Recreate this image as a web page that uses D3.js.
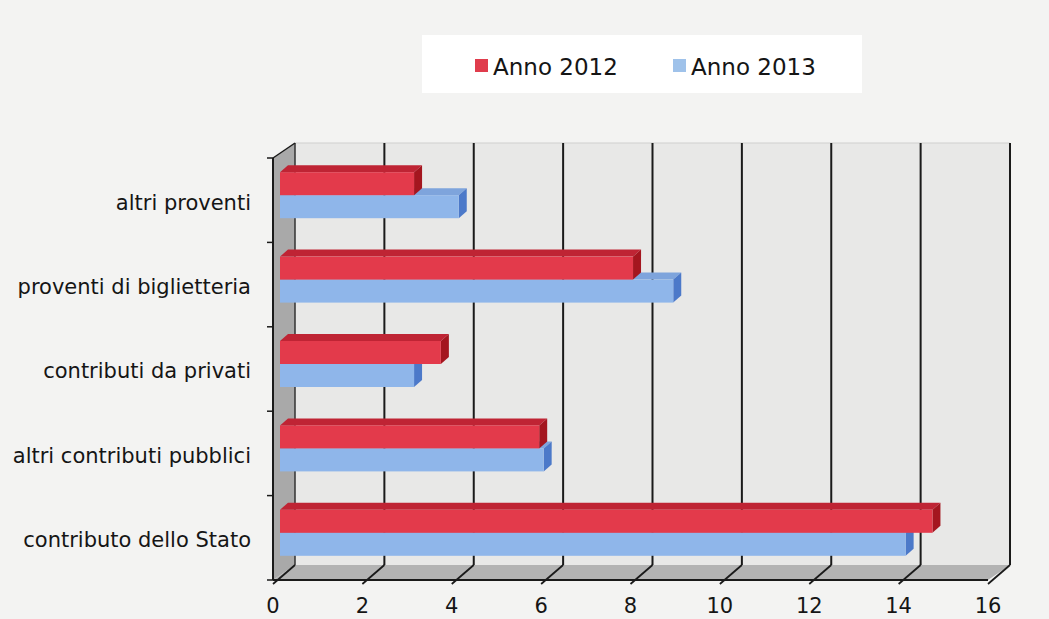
<!DOCTYPE html>
<html>
<head>
<meta charset="utf-8">
<script src="https://cdn.jsdelivr.net/npm/d3@7"></script>
<style>
  html, body { margin: 0; padding: 0; background: #f3f3f2; }
  svg { display: block; }
</style>
</head>
<body>
<svg id="chart" width="1049" height="619"></svg>
<script>
// ---- data ----
const categories = ["altri proventi", "proventi di biglietteria", "contributi da privati", "altri contributi pubblici", "contributo dello Stato"];
const seriesNames = ["Anno 2012", "Anno 2013"];
const values2012 = [3.0, 7.9, 3.6, 5.8, 14.6];
const values2013 = [4.0, 8.8, 3.0, 5.9, 14.0];
const xTicks = [0, 2, 4, 6, 8, 10, 12, 14, 16];

// ---- styles ----
const colors = {
  "Anno 2012": { front: "#e33a4b", top: "#bf2434", side: "#a4161f", legend: "#e03c4c" },
  "Anno 2013": { front: "#8fb6ea", top: "#7ea4dc", side: "#4c79c9", legend: "#9fc2ea" }
};
const font = "'DejaVu Sans', Verdana, sans-serif";

const svg = d3.select("#chart");

// scales (front plane)
const x = d3.scaleLinear().domain([0, 16]).range([273, 988]);
const y = d3.scaleBand().domain(categories).range([158, 580]);
const yInner = d3.scaleBand().domain(seriesNames).range([0, 46]);

// depth offsets
const wallDX = 22, wallDY = -15;      // back wall
const barF = { dx: 7, dy: -5 };       // bar front face
const barB = { dx: 15, dy: -12 };     // bar back face

const yTop = y.range()[0], yBot = y.range()[1];
const x0 = x(0), x16 = x(16);

// left side wall
svg.append("polygon")
  .attr("points", [[x0, yTop], [x0 + wallDX, yTop + wallDY], [x0 + wallDX, yBot + wallDY], [x0, yBot]].join(" "))
  .attr("fill", "#a9a9a9");

// back wall
svg.append("rect")
  .attr("x", x0 + wallDX).attr("y", yTop + wallDY)
  .attr("width", x16 - x0).attr("height", yBot - yTop)
  .attr("fill", "#e8e8e7");
svg.append("line")
  .attr("x1", x0 + wallDX).attr("x2", x16 + wallDX)
  .attr("y1", yTop + wallDY).attr("y2", yTop + wallDY)
  .attr("stroke", "#cfcfcf").attr("stroke-width", 1);

// floor
svg.append("polygon")
  .attr("points", [[x0, yBot], [x0 + wallDX, yBot + wallDY], [x16 + wallDX, yBot + wallDY], [x16, yBot]].join(" "))
  .attr("fill", "#b3b3b3");

// gridlines on back wall
svg.append("g").selectAll("line")
  .data(xTicks.filter(d => d > 0))
  .join("line")
  .attr("x1", d => x(d) + wallDX).attr("x2", d => x(d) + wallDX)
  .attr("y1", yTop + wallDY).attr("y2", yBot + wallDY)
  .attr("stroke", "#1a1a1a").attr("stroke-width", 2);

// left back edge
svg.append("line")
  .attr("x1", x0 + wallDX).attr("x2", x0 + wallDX)
  .attr("y1", yTop + wallDY).attr("y2", yBot + wallDY)
  .attr("stroke", "#333").attr("stroke-width", 1.5);

// floor diagonals
svg.append("g").selectAll("line")
  .data(xTicks)
  .join("line")
  .attr("x1", d => x(d)).attr("y1", yBot + 4)
  .attr("x2", d => x(d) + wallDX).attr("y2", yBot + wallDY)
  .attr("stroke", "#1a1a1a").attr("stroke-width", 1.8);

// top-left diagonal
svg.append("line")
  .attr("x1", x0).attr("y1", yTop)
  .attr("x2", x0 + wallDX).attr("y2", yTop + wallDY)
  .attr("stroke", "#1a1a1a").attr("stroke-width", 1.5);

// bottom axis line (front)
svg.append("line")
  .attr("x1", x0).attr("x2", x16).attr("y1", yBot).attr("y2", yBot)
  .attr("stroke", "#1a1a1a").attr("stroke-width", 2);

// left axis line
svg.append("line")
  .attr("x1", x0).attr("x2", x0).attr("y1", yTop).attr("y2", yBot)
  .attr("stroke", "#1a1a1a").attr("stroke-width", 2);

// left axis ticks at band boundaries
const boundaries = categories.map(c => y(c)).concat([yBot]);
svg.append("g").selectAll("line")
  .data(boundaries)
  .join("line")
  .attr("x1", x0 - 6).attr("x2", x0)
  .attr("y1", d => d).attr("y2", d => d)
  .attr("stroke", "#1a1a1a").attr("stroke-width", 1.5);

// bars
const barData = [];
categories.forEach((c, i) => {
  barData.push({ cat: c, series: "Anno 2013", value: values2013[i] });
});
categories.forEach((c, i) => {
  barData.push({ cat: c, series: "Anno 2012", value: values2012[i] });
});

const bandOffset = (y.bandwidth() - 46) / 2;
const barG = svg.append("g");
barData.forEach(d => {
  const top = y(d.cat) + bandOffset + yInner(d.series);
  const h = yInner.bandwidth();
  const xa = x(0), xb = x(d.value);
  const col = colors[d.series];
  const g = barG.append("g");
  g.append("polygon")
    .attr("points", [[xa + barF.dx, top + barF.dy], [xb + barF.dx, top + barF.dy], [xb + barB.dx, top + barB.dy], [xa + barB.dx, top + barB.dy]].join(" "))
    .attr("fill", col.top);
  g.append("polygon")
    .attr("points", [[xb + barF.dx, top + barF.dy], [xb + barB.dx, top + barB.dy], [xb + barB.dx, top + h + barB.dy], [xb + barF.dx, top + h + barF.dy]].join(" "))
    .attr("fill", col.side);
  g.append("rect")
    .attr("x", xa + barF.dx).attr("y", top + barF.dy)
    .attr("width", xb - xa).attr("height", h)
    .attr("fill", col.front);
});

// x tick labels
svg.append("g").selectAll("text")
  .data(xTicks)
  .join("text")
  .attr("x", d => x(d)).attr("y", 613)
  .attr("text-anchor", "middle")
  .attr("font-family", font).attr("font-size", 21)
  .attr("fill", "#151515")
  .text(d => d);

// category labels
svg.append("g").selectAll("text")
  .data(categories)
  .join("text")
  .attr("x", 251)
  .attr("y", d => y(d) + y.bandwidth() / 2 + 2)
  .attr("dy", "0.35em")
  .attr("text-anchor", "end")
  .attr("font-family", font).attr("font-size", 21)
  .attr("fill", "#151515")
  .text(d => d);

// legend
const legend = svg.append("g");
legend.append("rect")
  .attr("x", 422).attr("y", 35).attr("width", 440).attr("height", 58)
  .attr("fill", "#ffffff");
const legendX = [475, 673];
seriesNames.forEach((s, i) => {
  legend.append("rect")
    .attr("x", legendX[i]).attr("y", 59).attr("width", 13).attr("height", 13)
    .attr("fill", colors[s].legend);
  legend.append("text")
    .attr("x", legendX[i] + 18).attr("y", 75)
    .attr("font-family", font).attr("font-size", 23)
    .attr("fill", "#151515")
    .text(s);
});
</script>
</body>
</html>
